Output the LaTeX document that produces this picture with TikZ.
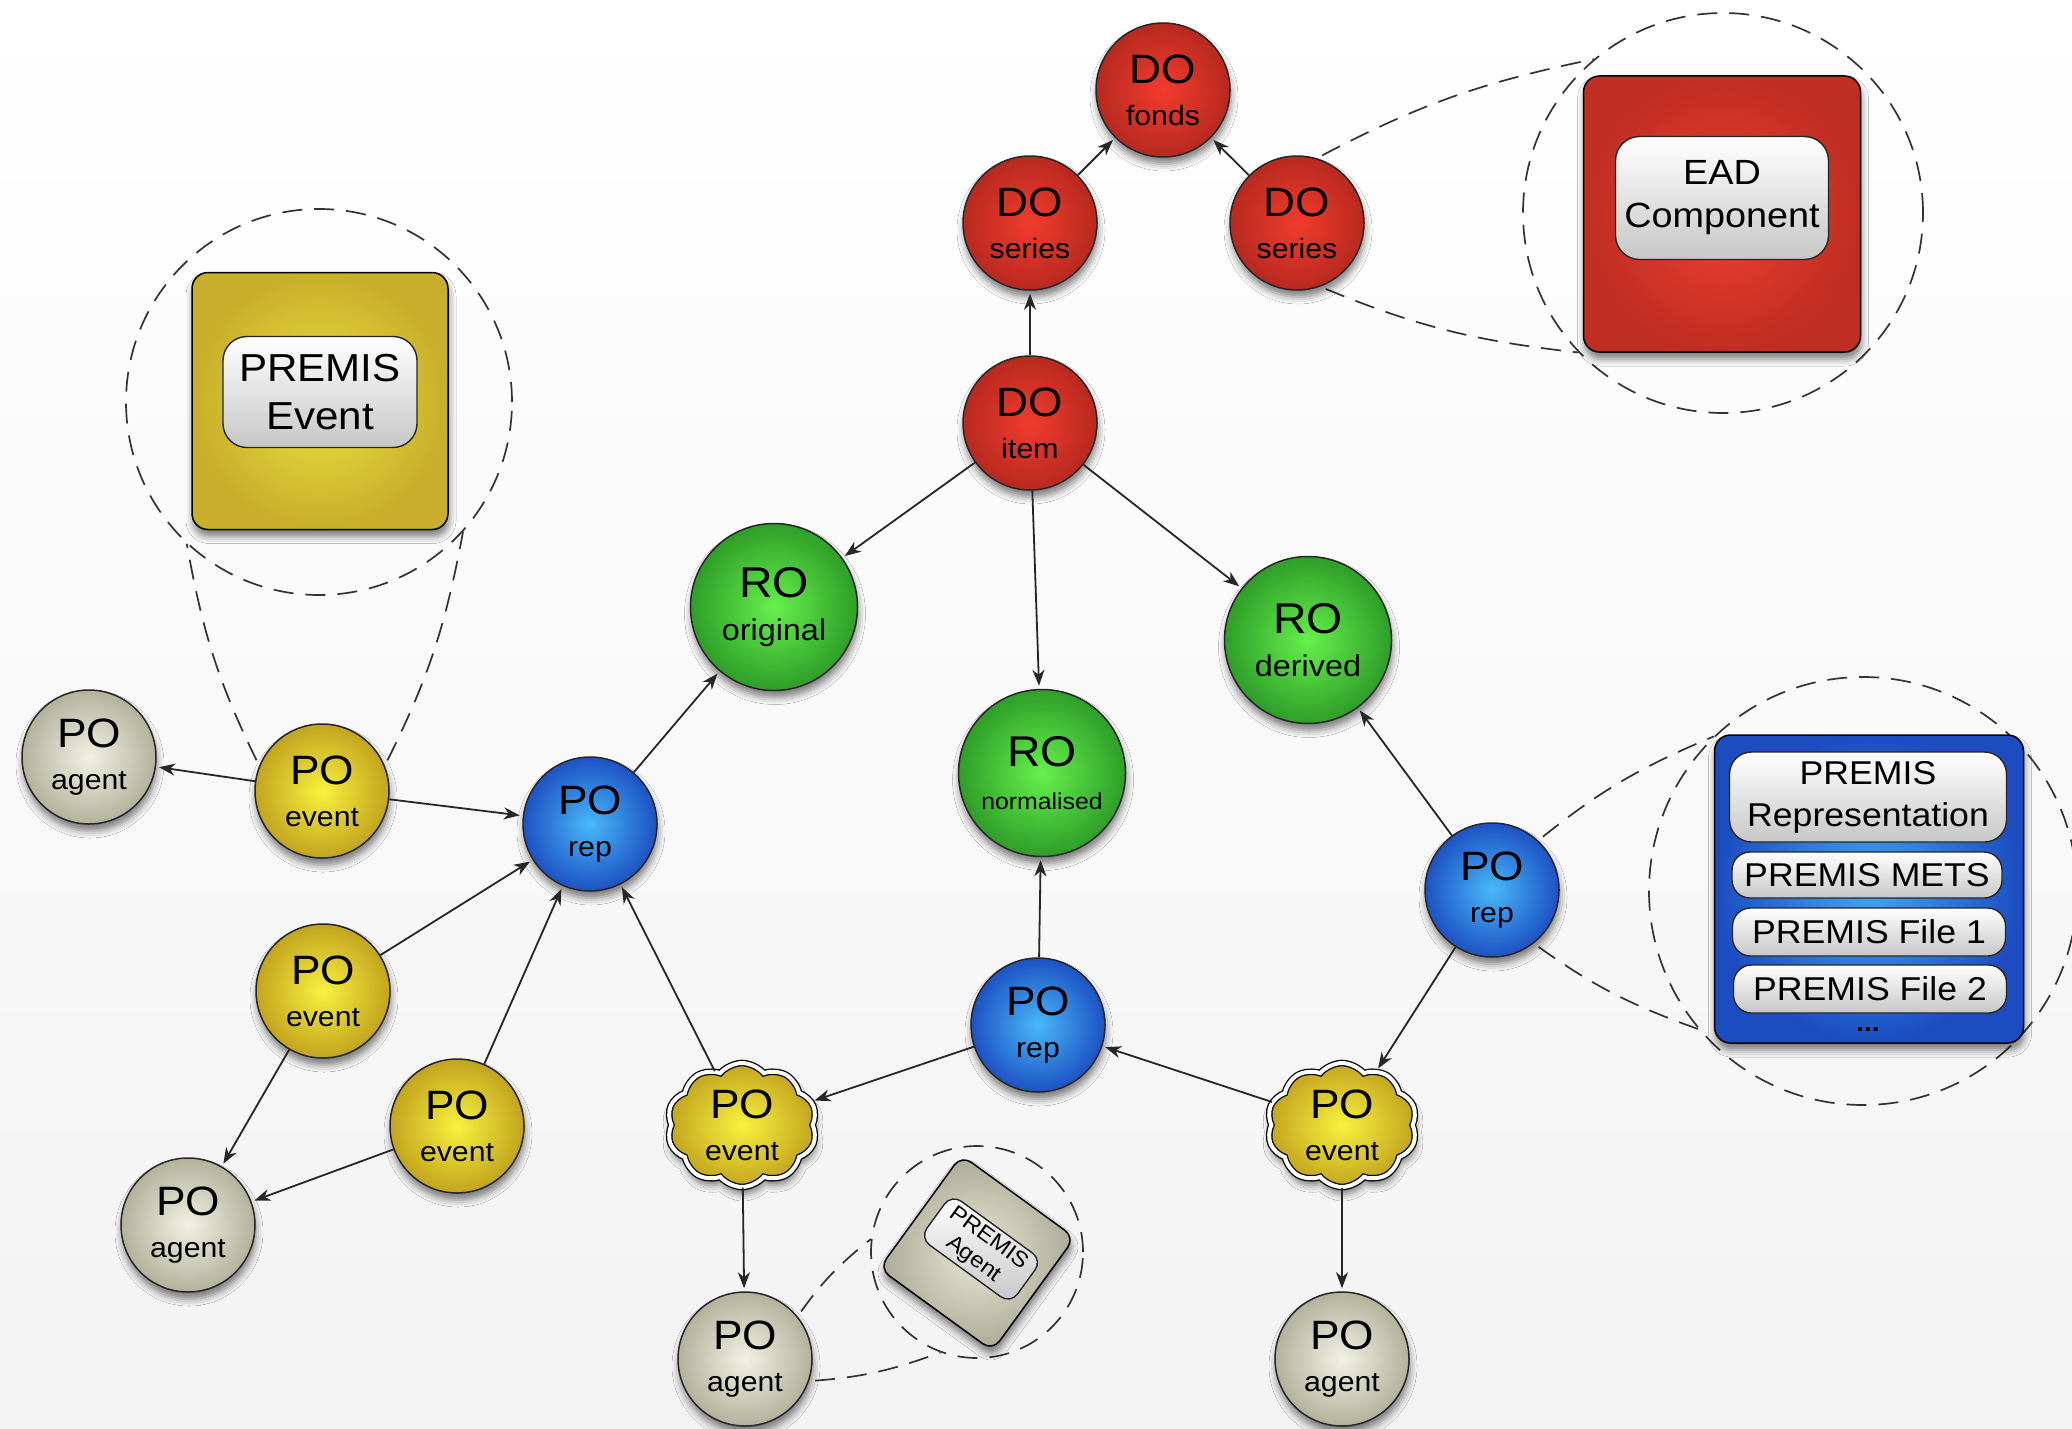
\documentclass[tikz,border=0pt]{standalone}
\usepackage{fontspec}
\setmainfont{Liberation Sans}[FakeStretch=1.08]
\usetikzlibrary{shapes.symbols, shadows.blur, arrows.meta, calc}
\pgfdeclarelayer{bg}
\pgfsetlayers{bg,main}

\definecolor{redI}{HTML}{F23C2E}
\definecolor{redO}{HTML}{B8291F}
\definecolor{grnI}{HTML}{66F04C}
\definecolor{grnO}{HTML}{2E9E28}
\definecolor{bluI}{HTML}{48B8F8}
\definecolor{bluO}{HTML}{1D52C4}
\definecolor{yelI}{HTML}{F8F23E}
\definecolor{yelO}{HTML}{C2A41E}
\definecolor{gryI}{HTML}{F2F2E4}
\definecolor{gryO}{HTML}{B2B29C}
\definecolor{ybxI}{HTML}{EAE23E}
\definecolor{ybxO}{HTML}{C8AE2A}
\definecolor{rbxI}{HTML}{F0402F}
\definecolor{rbxO}{HTML}{C02D23}
\definecolor{bbxI}{HTML}{3FA6F2}
\definecolor{bbxO}{HTML}{1C4CC0}
\definecolor{abxI}{HTML}{E8E8D6}
\definecolor{abxO}{HTML}{AAAA96}
\definecolor{bgB}{HTML}{F3F3F3}

\newcommand{\biglab}[1]{{\fontsize{41}{42}\selectfont #1}}
\newcommand{\robig}[1]{{\fontsize{43}{43}\selectfont #1}}

\tikzset{
  sh/.style={blur shadow={shadow xshift=1pt, shadow yshift=-7pt, shadow blur radius=7pt, shadow opacity=50}},
  ball/.style={circle, draw=black!85, line width=1.5pt, minimum size=134pt, inner sep=0pt,
    align=center, font=\fontsize{28}{42}\selectfont, sh},
  bigball/.style={ball, minimum size=167pt, font=\fontsize{30}{43}\selectfont},
  dobj/.style={ball, inner color=redI, outer color=redO},
  robj/.style={bigball, inner color=grnI, outer color=grnO},
  prep/.style={ball, inner color=bluI, outer color=bluO},
  pev/.style={ball, inner color=yelI, outer color=yelO},
  pag/.style={ball, inner color=gryI, outer color=gryO},
  pcloud/.style={cloud, cloud puffs=10, cloud puff arc=100, cloud ignores aspect,
    minimum width=150pt, minimum height=124pt, inner sep=0pt, draw=black,
    line width=1.3pt, double=white, double distance=4pt,
    inner color=yelI, outer color=yelO, align=center, font=\fontsize{28}{42}\selectfont, sh},
  arr/.style={draw=black!85, line width=1.8pt, -{Stealth[length=16pt, width=12pt, inset=5pt]}, shorten >=3pt},
  callout/.style={draw=black!80, line width=1.7pt, dash pattern=on 20pt off 12pt, shorten <=6pt},
  zoomring/.style={circle, draw=black!80, line width=1.7pt, dash pattern=on 20pt off 12pt, inner sep=0pt},
  inset/.style={rectangle, rounded corners=16pt, draw=black, line width=1.5pt, inner sep=0pt, sh},
  pill/.style={rectangle, draw=black!85, line width=1.4pt, top color=white, bottom color=black!22,
    align=center, inner sep=0pt},
}

\begin{document}
\begin{tikzpicture}[x=1pt,y=-1pt]
\useasboundingbox (0,0) rectangle (2072,1429);

% zoom rings
\node[zoomring, minimum size=386pt] (evring) at (319,402) {};
\node[zoomring, minimum size=400pt] (eadring) at (1723,213) {};
\node[zoomring, minimum size=428pt] (repring) at (1863,891) {};
\node[zoomring, minimum size=212pt] (agring) at (977,1252) {};

% inset boxes
\node[inset, minimum width=256pt, minimum height=257pt, inner color=ybxI, outer color=ybxO] (evbox) at (320,401) {};
\node[pill, minimum width=194pt, minimum height=111pt, rounded corners=24pt, font=\fontsize{39}{48}\selectfont] (evpill) at (320,392) {PREMIS\\Event};

\node[inset, minimum width=277pt, minimum height=276pt, inner color=rbxI, outer color=rbxO] (eadbox) at (1722,214) {};
\node[pill, minimum width=213pt, minimum height=123pt, rounded corners=24pt, font=\fontsize{35}{43}\selectfont] (eadpill) at (1722,198) {EAD\\Component};

\node[inset, minimum width=309pt, minimum height=308pt, inner color=bbxI, outer color=bbxO] (repbox) at (1869,889) {};
\node[pill, minimum width=277pt, minimum height=90pt, rounded corners=22pt, font=\fontsize{33}{42}\selectfont] (pr1) at (1868,797) {PREMIS\\Representation};
\node[pill, minimum width=270pt, minimum height=46pt, rounded corners=18pt, font=\fontsize{33}{42}\selectfont] (pr2) at (1867,875) {PREMIS METS};
\node[pill, minimum width=273pt, minimum height=48pt, rounded corners=18pt, font=\fontsize{33}{42}\selectfont] (pr3) at (1869,932) {PREMIS File 1};
\node[pill, minimum width=273pt, minimum height=48pt, rounded corners=18pt, font=\fontsize{33}{42}\selectfont] (pr4) at (1870,989) {PREMIS File 2};
\node[inner sep=0pt, font=\bfseries\fontsize{26}{26}\selectfont] (dots) at (1868,1030) {...};

\node[inset, rotate=-36, minimum size=140pt, rounded corners=12pt, inner color=abxI, outer color=abxO] (agbox) at (977,1253) {};
\node[pill, rotate=-36, minimum width=112pt, minimum height=54pt, rounded corners=12pt, font=\fontsize{22}{26}\selectfont] (agpill) at (981,1249) {PREMIS\\Agent};

% main nodes
\node[dobj] (fonds) at (1163,90) {\biglab{DO}\\fonds};
\node[dobj] (serL) at (1030,223) {\biglab{DO}\\series};
\node[dobj] (serR) at (1297,223) {\biglab{DO}\\series};
\node[dobj] (item) at (1030,423) {\biglab{DO}\\item};
\node[robj] (rorig) at (774,607) {\robig{RO}\\original};
\node[robj] (rnorm) at (1042,773) {\robig{RO}\\{\fontsize{23}{43}\selectfont normalised}};
\node[robj] (rder) at (1308,640) {\robig{RO}\\derived};
\node[prep] (repL) at (590,824) {\biglab{PO}\\rep};
\node[prep] (repM) at (1038,1025) {\biglab{PO}\\rep};
\node[prep] (repR) at (1492,890) {\biglab{PO}\\rep};
\node[pag] (agFL) at (89,757) {\biglab{PO}\\agent};
\node[pev] (ev1) at (322,791) {\biglab{PO}\\event};
\node[pev] (ev2) at (323,991) {\biglab{PO}\\event};
\node[pev] (ev3) at (457,1126) {\biglab{PO}\\event};
\node[pag] (ag2) at (188,1225) {\biglab{PO}\\agent};
\node[pcloud] (clL) at (742,1125) {\biglab{PO}\\event};
\node[pcloud] (clR) at (1342,1125) {\biglab{PO}\\event};
\node[pag] (agBL) at (745,1359) {\biglab{PO}\\agent};
\node[pag] (agBR) at (1342,1359) {\biglab{PO}\\agent};

% background and callouts
\begin{pgfonlayer}{bg}
\shade[top color=white, bottom color=bgB] (0,0) rectangle (2072,1429);
\draw[callout] (ev1.158) to[bend left=8] (evring.227);
\draw[callout] (ev1.22) to[bend right=8] (evring.318);
\draw[callout] (serR.73) to[bend left=8] (eadring.130);
\draw[callout] (serR.-70) to[bend right=8] (eadring.224);
\draw[callout] (repR.47) to[bend left=8] (repring.134);
\draw[callout] (repR.-52) to[bend right=8] (repring.220);
\draw[callout] (agBL.39) to[bend left=8] (agring.173);
\draw[callout] (agBL.-19) to[bend right=8] (agring.250);
\end{pgfonlayer}

% edges
\draw[arr] (serL) -- (fonds);
\draw[arr] (serR) -- (fonds);
\draw[arr] (item) -- (serL);
\draw[arr] (item) -- (rorig);
\draw[arr] (item) -- (rnorm);
\draw[arr] (item) -- (rder);
\draw[arr] (repL) -- (rorig);
\draw[arr] (repM) -- (rnorm);
\draw[arr] (repR) -- (rder);
\draw[arr] (ev1) -- (agFL);
\draw[arr] (ev1) -- (repL);
\draw[arr] (ev2) -- (repL);
\draw[arr] (ev3) -- (repL);
\draw[arr] (ev2) -- (ag2);
\draw[arr] (ev3) -- (ag2);
\draw[arr] (clL) -- (repL);
\draw[arr] (repM) -- (clL);
\draw[arr] (clR) -- (repM);
\draw[arr] (repR) -- (clR);
\draw[arr] (clL) -- (agBL);
\draw[arr] (clR) -- (agBR);
\end{tikzpicture}
\end{document}
